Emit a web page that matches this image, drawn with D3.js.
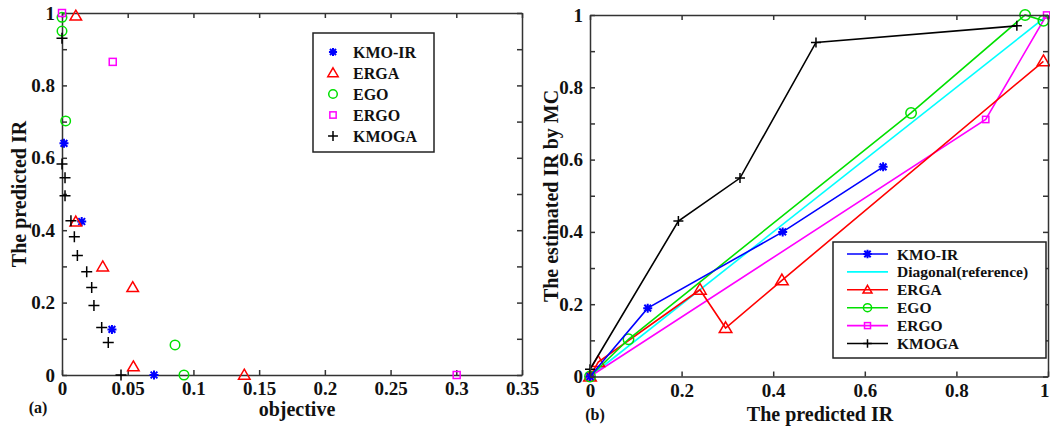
<!DOCTYPE html>
<html>
<head>
<meta charset="utf-8">
<script src="https://cdn.jsdelivr.net/npm/d3@7"></script>
<style>
  html, body { margin: 0; padding: 0; background: #fff; }
  svg { display: block; }
  text { font-family: "Liberation Serif", "Times New Roman", serif; font-weight: bold; fill: #111; }
  .axis path, .axis line { stroke: #333; stroke-width: 1.5; }
  .axis text { font-size: 19px; font-family: "Liberation Serif", serif; font-weight: bold; fill: #111; }
</style>
</head>
<body>
<svg id="chart" width="1050" height="430"></svg>
<script>
// ---- Panel (a): objective vs predicted IR ----
const aKMOIR = [[0.0015, 0.64], [0.015, 0.424], [0.038, 0.126], [0.070, 0]];
const aERGA  = [[0.0105, 0.992], [0.0105, 0.423], [0.031, 0.299], [0.0538, 0.242], [0.0543, 0.023], [0.1387, 0]];
const aEGO   = [[0, 0.988], [0, 0.95], [0.0028, 0.702], [0.086, 0.083], [0.0928, 0]];
const aERGO  = [[0, 1.0], [0.0386, 0.865], [0.3003, 0]];
const aKMOGA = [[0, 0.93], [0, 0.583], [0.0023, 0.545], [0.0023, 0.495], [0.0068, 0.426], [0.0094, 0.382],
                [0.0117, 0.33], [0.0188, 0.285], [0.0226, 0.242], [0.0243, 0.192], [0.0302, 0.131],
                [0.0352, 0.09], [0.0449, 0]];
const aXTicks = [0, 0.05, 0.1, 0.15, 0.2, 0.25, 0.3, 0.35];
const aXTickLabels = ["0", "0.05", "0.1", "0.15", "0.2", "0.25", "0.3", "0.35"];

// ---- Panel (b): predicted IR vs IR estimated by Monte Carlo ----
const bKMOIR    = [[0, 0], [0.126, 0.189], [0.4207, 0.400], [0.640, 0.580]];
const bDiagonal = [[0, 0], [1, 1]];
const bERGA     = [[0, 0], [0.018, 0.04], [0.240, 0.240], [0.296, 0.134], [0.419, 0.266], [0.99, 0.872]];
const bEGO      = [[0, 0], [0.084, 0.103], [0.701, 0.729], [0.95, 1.0], [0.99, 0.984]];
const bERGO     = [[0, 0], [0.864, 0.711], [0.997, 1.0]];
const bKMOGA    = [[0, 0.02], [0.193, 0.430], [0.3275, 0.549], [0.4934, 0.924], [0.932, 0.970]];
const bXTicks = [0, 0.2, 0.4, 0.6, 0.8, 1];
const bXTickLabels = ["0", "0.2", "0.4", "0.6", "0.8", "1"];

// shared y ticks (every 0.1, labelled every 0.2)
const yTicks = [0, 0.1, 0.2, 0.3, 0.4, 0.5, 0.6, 0.7, 0.8, 0.9, 1];
const yTickLabels = ["0", "", "0.2", "", "0.4", "", "0.6", "", "0.8", "", "1"];

const seriesNames = ["KMO-IR", "ERGA", "EGO", "ERGO", "KMOGA"];
const bSeriesNames = ["KMO-IR", "Diagonal(reference)", "ERGA", "EGO", "ERGO", "KMOGA"];

const colors = {
  "KMO-IR": "#0000ff", "ERGA": "#ff0000", "EGO": "#00e000", "ERGO": "#ff00ff",
  "KMOGA": "#000000", "Diagonal(reference)": "#00ffff"
};
const markers = {
  "KMO-IR": "star", "ERGA": "tri", "EGO": "circle", "ERGO": "square", "KMOGA": "plus",
  "Diagonal(reference)": null
};

const svg = d3.select("#chart");

// draws a MATLAB-style marker centred at the group origin
function drawMarker(g, type, color, s) {
  const r = s;
  if (type === "star") {
    const k = r * 0.75;
    g.append("path")
      .attr("d", `M0,${-r}L0,${r}M${-r},0L${r},0M${-k},${-k}L${k},${k}M${-k},${k}L${k},${-k}`)
      .attr("stroke", color).attr("stroke-width", 2).attr("fill", "none");
  } else if (type === "tri") {
    g.append("path")
      .attr("d", `M0,${-r * 1.05}L${r * 1.05},${r * 0.75}L${-r * 1.05},${r * 0.75}Z`)
      .attr("stroke", color).attr("stroke-width", 1.5).attr("fill", "none");
  } else if (type === "circle") {
    g.append("circle").attr("r", r * 0.95)
      .attr("stroke", color).attr("stroke-width", 1.5).attr("fill", "none");
  } else if (type === "square") {
    g.append("rect").attr("x", -r * 0.7).attr("y", -r * 0.7)
      .attr("width", r * 1.4).attr("height", r * 1.4)
      .attr("stroke", color).attr("stroke-width", 1.5).attr("fill", "none");
  } else if (type === "plus") {
    g.append("path")
      .attr("d", `M0,${-r}L0,${r}M${-r},0L${r},0`)
      .attr("stroke", color).attr("stroke-width", 1.5).attr("fill", "none");
  }
}

// box axes with inward ticks on all four sides
function drawBox(x, y, xTicks, xLabels) {
  const [x0, x1] = x.range();
  const [y0, y1] = y.range();
  const xl = d3.scaleOrdinal(xTicks, xLabels);
  const yl = d3.scaleOrdinal(yTicks, yTickLabels);

  const bottom = svg.append("g").attr("class", "axis").attr("transform", `translate(0,${y0})`)
    .call(d3.axisBottom(x).tickValues(xTicks).tickSizeInner(-5).tickSizeOuter(0).tickPadding(7)
      .tickFormat(d => xl(d)));
  // keep the label at the right end of the axis inside the page
  bottom.selectAll(".tick text")
    .filter(function () { return x(d3.select(this.parentNode).datum()) + 6 > +svg.attr("width"); })
    .attr("text-anchor", "end").attr("dx", "1");
  svg.append("g").attr("class", "axis").attr("transform", `translate(0,${y1})`)
    .call(d3.axisTop(x).tickValues(xTicks).tickSizeInner(-5).tickSizeOuter(0).tickFormat(""));
  svg.append("g").attr("class", "axis").attr("transform", `translate(${x0},0)`)
    .call(d3.axisLeft(y).tickValues(yTicks).tickSizeInner(-5).tickSizeOuter(0).tickPadding(7)
      .tickFormat(d => yl(d)));
  svg.append("g").attr("class", "axis").attr("transform", `translate(${x1},0)`)
    .call(d3.axisRight(y).tickValues(yTicks).tickSizeInner(-5).tickSizeOuter(0).tickFormat(""));
  svg.selectAll(".axis .domain").attr("stroke", "#333").attr("stroke-width", 1.5);
}

// ---------- Panel (a) ----------
{
  const x = d3.scaleLinear().domain([0, 0.35]).range([62, 522]);
  const y = d3.scaleLinear().domain([0, 1]).range([375, 13]);
  drawBox(x, y, aXTicks, aXTickLabels);

  const data = { "KMO-IR": aKMOIR, "ERGA": aERGA, "EGO": aEGO, "ERGO": aERGO, "KMOGA": aKMOGA };
  const sizes = { "KMO-IR": 4.5, "ERGA": 5.5, "EGO": 5, "ERGO": 5, "KMOGA": 5.5 };
  for (const name of seriesNames) {
    svg.append("g").selectAll("g").data(data[name]).join("g")
      .attr("transform", d => `translate(${x(d[0])},${y(d[1])})`)
      .each(function () { drawMarker(d3.select(this), markers[name], colors[name], sizes[name]); });
  }

  // legend
  const lg = svg.append("g").attr("transform", "translate(313,33)");
  lg.append("rect").attr("width", 121).attr("height", 119)
    .attr("fill", "#fff").attr("stroke", "#222").attr("stroke-width", 1.5);
  seriesNames.forEach((name, i) => {
    const row = lg.append("g").attr("transform", `translate(20,${19 + i * 21})`);
    drawMarker(row.append("g"), markers[name], colors[name], sizes[name] * 0.9);
    row.append("text").attr("x", 20).attr("y", 5.5).style("font-size", "16px").text(name);
  });

  svg.append("text").attr("transform", "translate(26,194) rotate(-90)")
    .attr("text-anchor", "middle").style("font-size", "20px").text("The predicted IR");
  svg.append("text").attr("x", 297).attr("y", 416)
    .attr("text-anchor", "middle").style("font-size", "20px").text("objective");
  svg.append("text").attr("x", 38).attr("y", 413)
    .attr("text-anchor", "middle").style("font-size", "16px").text("(a)");
}

// ---------- Panel (b) ----------
{
  const x = d3.scaleLinear().domain([0, 1]).range([590, 1048]);
  const y = d3.scaleLinear().domain([0, 1]).range([376.5, 15]);

  const data = {
    "KMO-IR": bKMOIR, "Diagonal(reference)": bDiagonal, "ERGA": bERGA,
    "EGO": bEGO, "ERGO": bERGO, "KMOGA": bKMOGA
  };
  const sizes = { "KMO-IR": 4.5, "ERGA": 6, "EGO": 5.5, "ERGO": 4.5, "KMOGA": 5, "Diagonal(reference)": 0 };
  const line = d3.line().x(d => x(d[0])).y(d => y(d[1]));

  // draw order so the reference diagonal sits beneath the methods
  const drawOrder = ["Diagonal(reference)", "ERGO", "ERGA", "EGO", "KMO-IR", "KMOGA"];
  for (const name of drawOrder) {
    svg.append("path").datum(data[name]).attr("d", line)
      .attr("fill", "none").attr("stroke", colors[name]).attr("stroke-width", 1.6);
    if (markers[name]) {
      svg.append("g").selectAll("g").data(data[name]).join("g")
        .attr("transform", d => `translate(${x(d[0])},${y(d[1])})`)
        .each(function () { drawMarker(d3.select(this), markers[name], colors[name], sizes[name]); });
    }
  }

  drawBox(x, y, bXTicks, bXTickLabels);

  // legend
  const lg = svg.append("g").attr("transform", "translate(833,242)");
  lg.append("rect").attr("width", 213).attr("height", 116)
    .attr("fill", "#fff").attr("stroke", "#222").attr("stroke-width", 1.5);
  bSeriesNames.forEach((name, i) => {
    const yy = 12 + i * 17.9;
    const row = lg.append("g").attr("transform", `translate(0,${yy})`);
    row.append("line").attr("x1", 14).attr("x2", 55)
      .attr("stroke", colors[name]).attr("stroke-width", 1.6);
    if (markers[name]) {
      drawMarker(row.append("g").attr("transform", "translate(34.5,0)"),
        markers[name], colors[name], Math.min(sizes[name], 4.5) * 0.95);
    }
    row.append("text").attr("x", 64).attr("y", 5.5).style("font-size", "15.5px").text(name);
  });

  svg.append("text").attr("transform", "translate(558,196) rotate(-90)")
    .attr("text-anchor", "middle").style("font-size", "20px").text("The estimated IR by MC");
  svg.append("text").attr("x", 820).attr("y", 421)
    .attr("text-anchor", "middle").style("font-size", "20px").text("The predicted IR");
  svg.append("text").attr("x", 595).attr("y", 420)
    .attr("text-anchor", "middle").style("font-size", "16px").text("(b)");
}
</script>
</body>
</html>
